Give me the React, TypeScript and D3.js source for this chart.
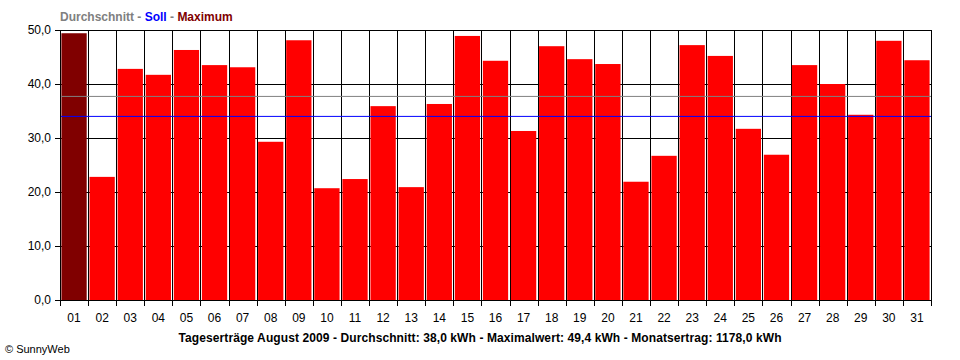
import React from "react";
import * as d3 from "d3";

const days = [
  "01", "02", "03", "04", "05", "06", "07", "08", "09", "10",
  "11", "12", "13", "14", "15", "16", "17", "18", "19", "20",
  "21", "22", "23", "24", "25", "26", "27", "28", "29", "30", "31",
];
const ertrag = [
  49.4, 22.8, 42.8, 41.7, 46.3, 43.5, 43.1, 29.3, 48.1, 20.7,
  22.4, 35.9, 20.9, 36.3, 48.9, 44.3, 31.3, 47.0, 44.6, 43.7,
  21.9, 26.7, 47.2, 45.2, 31.7, 26.9, 43.5, 40.0, 34.3, 48.0, 44.4,
];
const yTicks = [0, 10, 20, 30, 40, 50];
const durchschnitt = 37.7;
const soll = 34.0;
const titel =
  "Tageserträge August 2009 - Durchschnitt: 38,0 kWh - Maximalwert: 49,4 kWh - Monatsertrag: 1178,0 kWh";

const W = 960;
const H = 360;
const margin = { top: 30, right: 29, bottom: 60, left: 60 };
const font = "'Liberation Sans', Arial, sans-serif";

const App = () => {
  const innerW = W - margin.left - margin.right;
  const innerH = H - margin.top - margin.bottom;

  const x = d3.scaleBand().domain(days).range([0, innerW]).paddingInner(0.1).paddingOuter(0.05);
  const xOuter = d3.scaleLinear().domain([0, days.length]).range([0, innerW]);
  const y = d3.scaleLinear().domain([0, 50]).range([innerH, 0]);

  const maxVal = d3.max(ertrag) as number;
  const fmt = (v: number) => v.toFixed(1).replace(".", ",");

  return (
    <svg width={W} height={H} style={{ position: "absolute", left: 0, top: 0 }} fontFamily={font}>
      <rect width={W} height={H} fill="#fff" />

      {/* Legende oben */}
      <text x={60} y={21} fontSize={12} fontWeight="bold">
        <tspan fill="#808080">Durchschnitt</tspan>
        <tspan fill="#808080"> - </tspan>
        <tspan fill="#0000ff">Soll</tspan>
        <tspan fill="#808080"> - </tspan>
        <tspan fill="#800000">Maximum</tspan>
      </text>

      <g transform={`translate(${margin.left},${margin.top})`}>
        {/* horizontale Gitterlinien */}
        {yTicks.map((t) => (
          <line key={"h" + t} x1={-5} x2={innerW} y1={Math.round(y(t)) + 0.5} y2={Math.round(y(t)) + 0.5} stroke="#000" />
        ))}
        {/* vertikale Gitterlinien */}
        {d3.range(days.length + 1).map((i) => (
          <line
            key={"v" + i}
            x1={Math.round(xOuter(i)) + 0.5}
            x2={Math.round(xOuter(i)) + 0.5}
            y1={0}
            y2={innerH + 6}
            stroke="#000"
          />
        ))}

        {/* Balken */}
        {ertrag.map((v, i) => (
          <rect
            key={days[i]}
            x={x(days[i])}
            y={y(v)}
            width={x.bandwidth()}
            height={innerH - y(v)}
            fill={v === maxVal ? "#800000" : "#ff0000"}
          />
        ))}

        {/* Durchschnitt und Soll */}
        <line x1={0} x2={innerW} y1={y(durchschnitt)} y2={y(durchschnitt)} stroke="#808080" />
        <line x1={0} x2={innerW} y1={y(soll)} y2={y(soll)} stroke="#0000ff" />

        {/* Achse links */}
        <line x1={0.5} x2={0.5} y1={0} y2={innerH + 6} stroke="#000" />
        {yTicks.map((t) => (
          <text key={"yl" + t} x={-9} y={y(t) + 4} textAnchor="end" fontSize={12} fill="#000">
            {fmt(t)}
          </text>
        ))}

        {/* Achse unten */}
        {days.map((d) => (
          <text key={"xl" + d} x={(x(d) as number) + x.bandwidth() / 2} y={innerH + 22} textAnchor="middle" fontSize={12} fill="#000">
            {d}
          </text>
        ))}
      </g>

      <text x={480} y={342} textAnchor="middle" fontSize={12} fontWeight="bold" fill="#000" textLength={603}>
        {titel}
      </text>
      <text x={5} y={353} fontSize={11} fill="#000">
        © SunnyWeb
      </text>
    </svg>
  );
};

export default App;
